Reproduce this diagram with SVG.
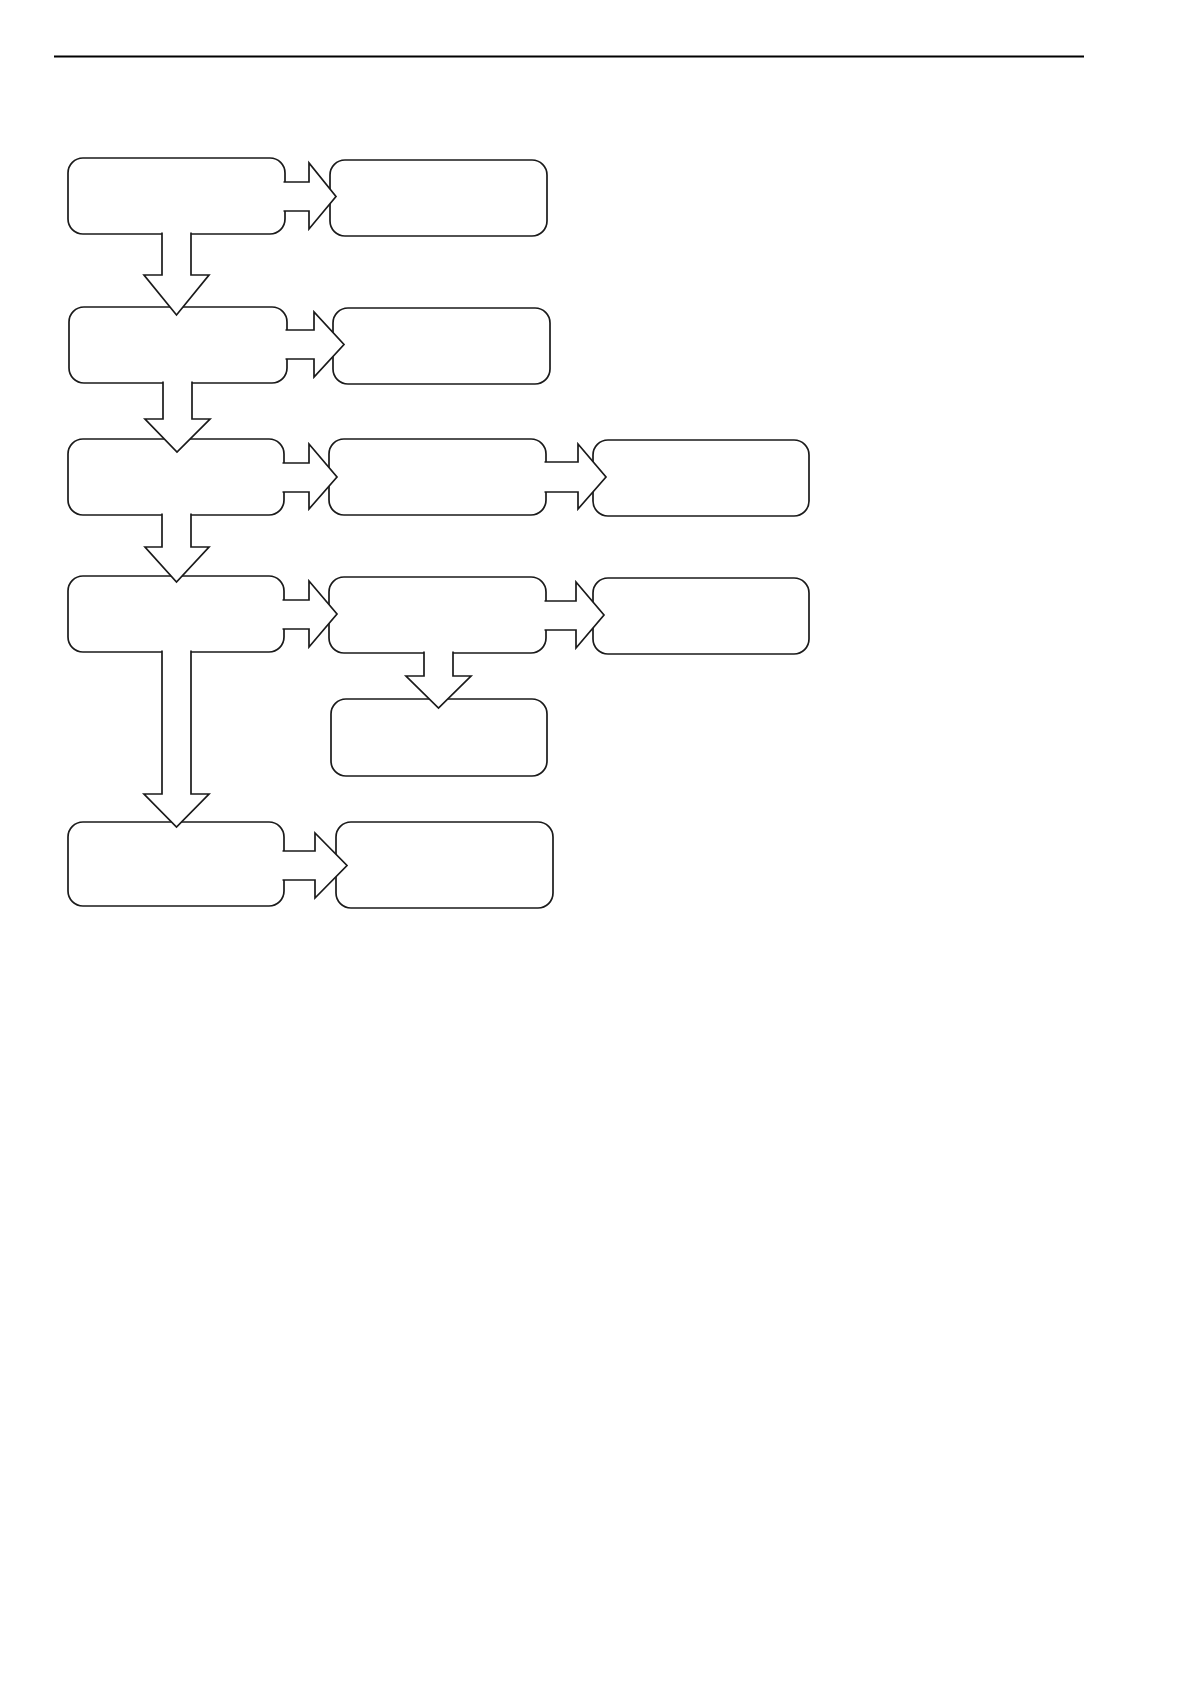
<svg xmlns="http://www.w3.org/2000/svg" width="1190" height="1684" viewBox="0 0 1190 1684">
<style>
.box{fill:#fff;stroke:#1a1a1a;stroke-width:1.7}
.arr{fill:#fff;stroke:#1a1a1a;stroke-width:1.7;stroke-linejoin:miter}
</style>
<rect width="1190" height="1684" fill="#fff"/>
<line x1="54" y1="56.5" x2="1084" y2="56.5" stroke="#000" stroke-width="2"/>
<g id="nodes">
<g id="n1"><rect class="box" x="68" y="158" width="217" height="76" rx="15"/></g>
<g id="n2"><rect class="box" x="330" y="160" width="217" height="76" rx="15"/></g>
<g id="n3"><rect class="box" x="69" y="307" width="218" height="76" rx="15"/></g>
<g id="n4"><rect class="box" x="333" y="308" width="217" height="76" rx="15"/></g>
<g id="n5"><rect class="box" x="68" y="439" width="216" height="76" rx="15"/></g>
<g id="n6"><rect class="box" x="329" y="439" width="217" height="76" rx="15"/></g>
<g id="n7"><rect class="box" x="593" y="440" width="216" height="76" rx="15"/></g>
<g id="n8"><rect class="box" x="68" y="576" width="216" height="76" rx="15"/></g>
<g id="n9"><rect class="box" x="329" y="577" width="217" height="76" rx="15"/></g>
<g id="n10"><rect class="box" x="593" y="578" width="216" height="76" rx="15"/></g>
<g id="n11"><rect class="box" x="331" y="699" width="216" height="77" rx="15"/></g>
<g id="n12"><rect class="box" x="68" y="822" width="216" height="84" rx="15"/></g>
<g id="n13"><rect class="box" x="336" y="822" width="217" height="86" rx="15"/></g>
</g>
<g id="connectors">
<path class="arr" d="M283.5 182 H309 V163 L336 196.5 L309 229 V211 H283.5"/>
<path class="arr" d="M162 232.5 V275 H144 L176.5 315 L209 275 H191 V232.5"/>
<path class="arr" d="M285.5 330 H314 V312 L344 344.5 L314 377 V359 H285.5"/>
<path class="arr" d="M163 381.5 V419 H145 L177 452 L210 419 H192 V381.5"/>
<path class="arr" d="M282.5 463 H309 V444 L337 477 L309 509 V492 H282.5"/>
<path class="arr" d="M544.5 462 H578 V444 L606 477 L578 509 V492 H544.5"/>
<path class="arr" d="M162 513.5 V547 H145 L176.5 582 L209 547 H191 V513.5"/>
<path class="arr" d="M282.5 600 H309 V581 L337 614 L309 647 V629 H282.5"/>
<path class="arr" d="M544.5 601 H576 V582 L604 615 L576 648 V630 H544.5"/>
<path class="arr" d="M424 651.5 V676 H406 L438.5 708 L471 676 H453 V651.5"/>
<path class="arr" d="M162 650.5 V794 H144 L176.5 827 L209 794 H191 V650.5"/>
<path class="arr" d="M282.5 851 H315 V833 L347 865.5 L315 898 V880 H282.5"/>
</g>
</svg>
